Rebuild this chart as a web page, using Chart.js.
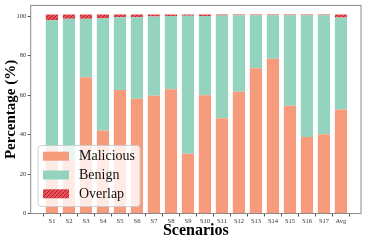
<!DOCTYPE html>
<html>
<head>
<meta charset="utf-8">
<script src="https://cdn.jsdelivr.net/npm/chart.js@4/dist/chart.umd.min.js"></script>
<style>
  html, body { margin: 0; padding: 0; background: #fff; }
  #wrap { width: 366px; height: 240px; }
</style>
</head>
<body>
<div id="wrap"><canvas id="chart" width="366" height="240"></canvas></div>
<script>
// Data
const scenarios = ['S1', 'S2', 'S3', 'S4', 'S5', 'S6', 'S7', 'S8', 'S9', 'S10', 'S11', 'S12', 'S13', 'S14', 'S15', 'S16', 'S17', 'Avg'];
const malicious = [33, 27, 69, 42, 62.6, 58.1, 59.6, 62.9, 30.3, 59.9, 48.2, 61.7, 73.6, 78.4, 54.6, 38.8, 40.1, 52.7];
const benign = [64.9, 71.6, 29.6, 56.9, 36.8, 41.3, 40.2, 37.1, 69.9, 40.1, 52.1, 38.7, 26.8, 22.0, 45.8, 61.6, 60.3, 46.6];
const overlap = [2.9, 2.2, 2.2, 1.9, 1.4, 1.4, 1.0, 0.8, 0.6, 0.8, 0.5, 0.4, 0.4, 0.4, 0.4, 0.4, 0.4, 1.5];
const yTicks = [0, 20, 40, 60, 80, 100];

const SERIF = "'Liberation Serif', 'DejaVu Serif', serif";
const ORANGE = '#f79b7d';
const GREEN = '#94d3be';

const canvas = document.getElementById('chart');
const ctx = canvas.getContext('2d');

// red hatch for the overlap part
function makeHatch() {
  const c = document.createElement('canvas');
  c.width = 4; c.height = 4;
  const g = c.getContext('2d');
  g.fillStyle = '#ec4f55';
  g.fillRect(0, 0, 4, 4);
  g.strokeStyle = '#a8232a';
  g.lineWidth = 1;
  g.beginPath();
  g.moveTo(0, 4); g.lineTo(4, 0);
  g.moveTo(-1, 1); g.lineTo(1, -1);
  g.moveTo(3, 5); g.lineTo(5, 3);
  g.stroke();
  return ctx.createPattern(c, 'repeat');
}
const HATCH = makeHatch();

const toPoints = arr => arr.map((v, i) => ({ x: i, y: v }));

// gray box around the plot
const framePlugin = {
  id: 'frame',
  afterDatasetsDraw(chart) {
    const { ctx, chartArea: a } = chart;
    ctx.save();
    ctx.strokeStyle = '#8a8a8a';
    ctx.lineWidth = 1;
    ctx.strokeRect(a.left, a.top, a.right - a.left, a.bottom - a.top);
    ctx.restore();
  }
};

// legend inside the plot, lower left
const legendPlugin = {
  id: 'innerLegend',
  afterDraw(chart) {
    const { ctx } = chart;
    const x = 38, y = 145.5, w = 102, h = 61;
    ctx.save();
    ctx.beginPath();
    ctx.roundRect(x, y, w, h, 3);
    ctx.fillStyle = 'rgba(255,255,255,0.8)';
    ctx.fill();
    ctx.strokeStyle = 'rgba(204,204,204,0.9)';
    ctx.lineWidth = 1;
    ctx.stroke();
    const rows = [156.2, 175, 193.8];
    chart.data.datasets.forEach((ds, i) => {
      ctx.fillStyle = ds.backgroundColor;
      ctx.fillRect(43, rows[i] - 4.5, 26, 9);
      ctx.fillStyle = '#111';
      ctx.font = '14px ' + SERIF;
      ctx.textBaseline = 'middle';
      ctx.fillText(ds.label, 79, rows[i] + 0.5);
    });
    ctx.restore();
  }
};

new Chart(ctx, {
  type: 'bar',
  data: {
    datasets: [
      { label: 'Malicious', data: toPoints(malicious), backgroundColor: ORANGE },
      { label: 'Benign', data: toPoints(benign), backgroundColor: GREEN },
      { label: 'Overlap', data: toPoints(overlap), backgroundColor: HATCH },
    ],
  },
  options: {
    responsive: false,
    animation: false,
    layout: { padding: { top: 2.7, right: 5, left: 0, bottom: 0 } },
    datasets: { bar: { barPercentage: 0.72, categoryPercentage: 1, borderWidth: 0 } },
    plugins: { legend: { display: false }, tooltip: { enabled: false } },
    scales: {
      x: {
        type: 'linear',
        stacked: true,
        min: -0.71,
        max: 17.64,
        afterBuildTicks: scale => {
          scale.ticks = scenarios.map((_, i) => ({ value: i }));
        },
        afterFit: scale => { scale.height = 26.5; },
        ticks: {
          autoSkip: false,
          maxRotation: 0,
          padding: 1,
          color: '#333',
          font: { family: SERIF, size: 6.5 },
          callback: v => scenarios[v],
        },
        grid: { drawOnChartArea: false, tickLength: 3, color: '#555' },
        border: { display: false },
        title: {
          display: true,
          text: 'Scenarios',
          color: '#000',
          font: { family: SERIF, size: 16, weight: 'bold' },
          padding: { top: 0, bottom: 0 },
        },
      },
      y: {
        stacked: true,
        min: 0,
        max: 105.4,
        afterBuildTicks: scale => {
          scale.ticks = yTicks.map(v => ({ value: v }));
        },
        afterFit: scale => { scale.width = 30.7; },
        ticks: {
          padding: 1.5,
          color: '#333',
          font: { family: SERIF, size: 6.5 },
        },
        grid: { drawOnChartArea: false, tickLength: 3, color: '#555' },
        border: { display: false },
        title: {
          display: true,
          text: 'Percentage (%)',
          color: '#000',
          font: { family: SERIF, size: 15, weight: 'bold' },
          padding: { top: 2, bottom: 0 },
        },
      },
    },
  },
  plugins: [framePlugin, legendPlugin],
});
</script>
</body>
</html>
